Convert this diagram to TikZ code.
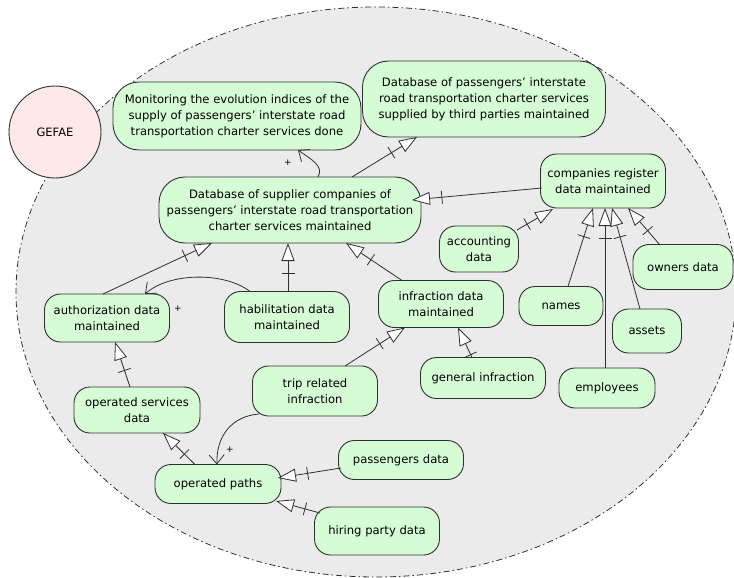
\documentclass[tikz,border=0pt]{standalone}
\usepackage{fontspec}
\setmainfont{DejaVu Sans}
\usetikzlibrary{arrows.meta,calc,decorations.markings}
\definecolor{ellfill}{HTML}{EBEBEB}
\definecolor{boxfill}{HTML}{D6FCD6}
\definecolor{gefaefill}{HTML}{FDE9E7}
\definecolor{edgecol}{HTML}{303030}
\tikzset{
  box/.style={draw=edgecol, fill=boxfill, rounded corners=16pt, align=center, inner sep=1pt,
    font=\fontsize{11.6}{16}\selectfont, line width=0.9pt},
  bigbox/.style={box, rounded corners=26pt},
  genarrow/.style={draw=edgecol, line width=0.8pt,
    -{Triangle[length=18pt,width=13pt,fill=white]},
    postaction={decorate},
    decoration={markings, mark=at position -30pt with {\draw[arrows=-,draw=edgecol,line width=0.8pt] (0,-6.5pt) -- (0,6.5pt);}}},
  plusarrow/.style={draw=edgecol, line width=0.8pt, -{Straight Barb[length=9pt,width=15pt]}},
  pluslabel/.style={font=\fontsize{9}{9}\selectfont, inner sep=0pt},
}
\begin{document}
\begin{tikzpicture}[x=1pt,y=-1pt]
\useasboundingbox (0,0) rectangle (734,578);
\clip (0,0) rectangle (734,578);
% scope ellipse
\draw[fill=ellfill, draw=edgecol, line width=0.8pt, dash pattern=on 6pt off 3pt on 1.5pt off 3pt]
  (376,292) ellipse [x radius=360pt, y radius=285pt];
% GEFAE
\node[circle, draw=edgecol, fill=gefaefill, line width=0.9pt, minimum size=92pt, inner sep=0pt,
  font=\fontsize{11.5}{13}\selectfont] (gefae) at (55,132) {GEFAE};

% nodes
\node[bigbox, minimum width=248pt, minimum height=68pt] (mon) at (237,116)
  {Monitoring the evolution indices of the\\supply of passengers' interstate road\\transportation charter services done};
\node[bigbox, minimum width=243pt, minimum height=76pt] (tp) at (484,99)
  {Database of passengers' interstate\\road transportation charter services\\supplied by third parties maintained};
\node[bigbox, minimum width=262pt, minimum height=66pt] (db) at (290,210)
  {Database of supplier companies of\\passengers' interstate road transportation\\charter services maintained};
\node[box, minimum width=125pt, minimum height=54pt] (cr) at (603,181) {companies register\\data maintained};
\node[box, minimum width=79pt, minimum height=46pt] (acc) at (479,249) {accounting\\data};
\node[box, minimum width=100pt, minimum height=45pt] (own) at (683,267) {owners data};
\node[box, minimum width=125pt, minimum height=48pt] (auth) at (107,318) {authorization data\\maintained};
\node[box, minimum width=125pt, minimum height=51pt] (hab) at (287,317) {habilitation data\\maintained};
\node[box, minimum width=125pt, minimum height=47pt] (inf) at (441,304) {infraction data\\maintained};
\node[box, minimum width=84pt, minimum height=39pt] (names) at (561,306) {names};
\node[box, minimum width=69pt, minimum height=44pt] (assets) at (647,331) {assets};
\node[box, minimum width=96pt, minimum height=40pt] (emp) at (607,388) {employees};
\node[box, minimum width=125pt, minimum height=41pt] (geninf) at (483,378) {general infraction};
\node[box, minimum width=125pt, minimum height=50pt] (trip) at (315,391) {trip related\\infraction};
\node[box, minimum width=126pt, minimum height=46pt] (osd) at (137,410) {operated services\\data};
\node[box, minimum width=126pt, minimum height=39pt] (op) at (218,484) {operated paths};
\node[box, minimum width=125pt, minimum height=39pt] (pas) at (401,460) {passengers data};
\node[box, minimum width=125pt, minimum height=48pt] (hir) at (377,531) {hiring party data};

% generalization connectors
\draw[genarrow] ($(db)+(62,-33)$) -- ($(tp)+(-67,38)$);
\draw[genarrow] ($(cr)+(-61,7)$) -- ($(db)+(122,-10)$);
\draw[genarrow] ($(acc)+(38,-19)$) -- ($(cr)+(-50,28)$);
\draw[genarrow] ($(names)+(7,-19.5)$) -- ($(cr)+(-10,27)$);
\draw[genarrow] ($(emp)+(-2,-20)$) -- ($(cr)+(2,27)$);
\draw[genarrow] ($(assets)+(-7,-22)$) -- ($(cr)+(9,27)$);
\draw[genarrow] ($(own)+(-23,-22)$) -- ($(cr)+(25,27)$);
\draw[genarrow] ($(auth)+(-4,-24)$) -- ($(db)+(-78,33)$);
\draw[genarrow] ($(hab)+(1,-25.5)$) -- ($(db)+(-2,33)$);
\draw[genarrow] ($(inf)+(-39,-23.5)$) -- ($(db)+(56,33)$);
\draw[genarrow] ($(osd)+(-7,-23)$) -- ($(auth)+(8,24)$);
\draw[genarrow] ($(op)+(-23,-19.5)$) -- ($(osd)+(26,23)$);
\draw[genarrow] ($(trip)+(30,-25)$) -- ($(inf)+(-36,23.5)$);
\draw[genarrow] ($(geninf)+(-11,-20.5)$) -- ($(inf)+(17,23.5)$);
\draw[genarrow] ($(pas)+(-60,8)$) -- ($(op)+(60,-6)$);
\draw[genarrow] ($(hir)+(-57,-18)$) -- ($(op)+(58,17)$);

% plus connectors
\draw[plusarrow] ($(db)+(28,-33)$) .. controls (324,166) and (312,160) .. ($(mon)+(61,34)$);
\draw[plusarrow] ($(hab)+(-37,-25.5)$) .. controls (225,272) and (170,272) .. ($(auth)+(38,-24)$);
\draw[plusarrow] ($(trip)+(-56,23)$) .. controls (232,416) and (216,436) .. ($(op)+(-1,-19.5)$);
\node[pluslabel] (p1) at (288,163) {+};
\node[pluslabel] (p2) at (178,309) {+};
\node[pluslabel] (p3) at (230,450) {+};
\end{tikzpicture}
\end{document}
